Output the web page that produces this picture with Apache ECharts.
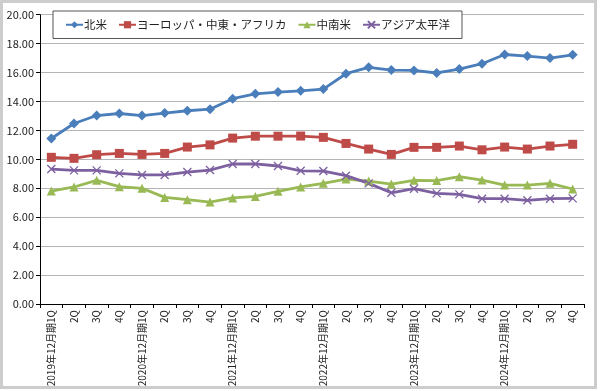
<!DOCTYPE html>
<html><head><meta charset="utf-8">
<script src="https://cdn.jsdelivr.net/npm/echarts@6/dist/echarts.min.js"></script>
<style>html,body{margin:0;padding:0;background:#fff}#c{width:600px;height:391px}</style>
</head><body><div id="c"></div>
<script>
const categories = [
  "2019年12月期1Q","2Q","3Q","4Q",
  "2020年12月期1Q","2Q","3Q","4Q",
  "2021年12月期1Q","2Q","3Q","4Q",
  "2022年12月期1Q","2Q","3Q","4Q",
  "2023年12月期1Q","2Q","3Q","4Q",
  "2024年12月期1Q","2Q","3Q","4Q"
];
const northAmerica = [11.44,12.48,13.03,13.17,13.03,13.2,13.36,13.47,14.19,14.53,14.65,14.74,14.86,15.92,16.36,16.17,16.15,15.97,16.24,16.61,17.25,17.14,17.0,17.23];
const europeMEA   = [10.14,10.07,10.32,10.41,10.34,10.41,10.85,11.0,11.47,11.6,11.6,11.61,11.52,11.1,10.71,10.34,10.83,10.83,10.92,10.66,10.85,10.71,10.92,11.04];
const latinAmerica = [7.81,8.09,8.55,8.11,8.0,7.37,7.21,7.05,7.33,7.44,7.79,8.09,8.34,8.64,8.5,8.29,8.55,8.53,8.8,8.57,8.22,8.22,8.34,7.95];
const asiaPacific = [9.33,9.24,9.24,9.03,8.92,8.92,9.12,9.26,9.68,9.68,9.54,9.21,9.19,8.87,8.34,7.69,7.97,7.65,7.58,7.28,7.28,7.17,7.28,7.3];
const seriesNames = ["北米","ヨーロッパ・中東・アフリカ","中南米","アジア太平洋"];
const yTicks = {min:0, max:20, interval:2};

const font = '"Noto Sans CJK JP","Noto Sans",sans-serif';
const crossPath = 'path://M0,0L10,10M10,0L0,10';
function mk(name, data, color, symbol, size, extra) {
  return Object.assign({
    name, type:'line', data, symbol, symbolSize:size,
    lineStyle:{color, width:2.8},
    itemStyle:{color, borderColor:color, borderWidth:0},
    emphasis:{disabled:true}, animation:false
  }, extra||{});
}
const chart = echarts.init(document.getElementById('c'), null, {renderer:'canvas'});
chart.setOption({
  animation:false,
  textStyle:{fontFamily:font},
  graphic:[{type:'rect', z:-1, shape:{x:1.5,y:1.5,width:594,height:386}, style:{fill:'#fff', stroke:'#cdcdcd', lineWidth:3}}],
  legend:{
    left:53, top:11, padding:[8,12,8,12], itemGap:11, itemWidth:17, itemHeight:9,
    borderColor:'#555', borderWidth:1, backgroundColor:'#fff',
    textStyle:{fontFamily:font, fontSize:11.5, color:'#222', padding:[0,0,0,-4]},
    data:seriesNames
  },
  grid:{left:40, right:16, top:14.7, bottom:87, containLabel:false},
  xAxis:{
    type:'category', data:categories, boundaryGap:true,
    axisLine:{lineStyle:{color:'#000', width:1}},
    axisTick:{show:true, length:4, lineStyle:{color:'#000'}},
    axisLabel:{rotate:90, interval:0, fontSize:10, color:'#222', margin:6, fontFamily:font}
  },
  yAxis:{
    type:'value', min:yTicks.min, max:yTicks.max, interval:yTicks.interval,
    axisLine:{show:true, lineStyle:{color:'#000'}},
    axisTick:{show:true, length:4, lineStyle:{color:'#000'}},
    axisLabel:{formatter:v=>v.toFixed(2), fontSize:11, color:'#222', margin:6, fontFamily:font},
    splitLine:{lineStyle:{color:'#b4b4b4', width:1}}
  },
  series:[
    mk(seriesNames[0], northAmerica, '#4a7ebb', 'diamond', 10),
    mk(seriesNames[1], europeMEA, '#be4b48', 'rect', 9),
    mk(seriesNames[2], latinAmerica, '#98b954', 'triangle', 9),
    mk(seriesNames[3], asiaPacific, '#7d60a0', crossPath, 8, {itemStyle:{color:'#7d60a0', borderColor:'#7d60a0', borderWidth:1.3}})
  ]
});
</script></body></html>
